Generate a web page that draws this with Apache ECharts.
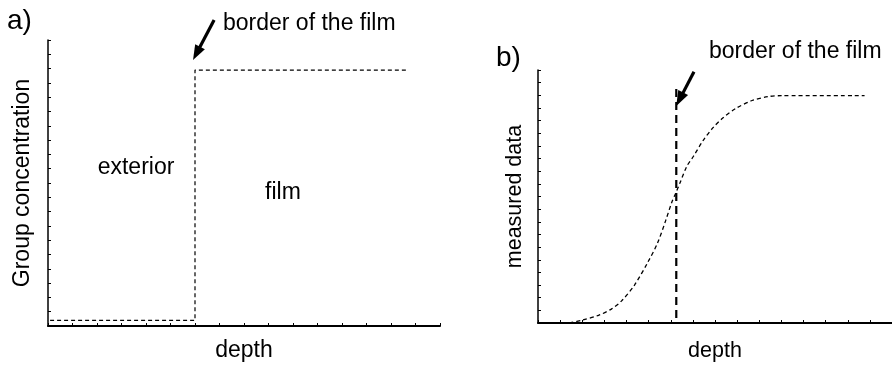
<!DOCTYPE html>
<html>
<head>
<meta charset="utf-8">
<script src="https://cdn.jsdelivr.net/npm/echarts@6/dist/echarts.min.js"></script>
<style>html,body{margin:0;padding:0;background:#fff}#c{width:892px;height:367px}</style>
</head>
<body>
<div id="c"></div>
<script>
// Panel a: step profile of group concentration
const stepDepth = [-0.2, 6, 6, 14.7];
const stepConc = [0.4, 0.4, 17.9, 17.9];
// Panel b: measured (smeared) profile
const curveDepth = [1.42, 2.01, 2.74, 3.33, 3.78, 4.37, 4.96, 5.40, 5.77, 6.06, 6.22, 6.43, 6.73, 7.02, 7.46, 7.91, 8.35, 8.94, 9.68, 10.41, 11.0, 14.76];
const curveData  = [0, 0.23, 0.61, 1.12, 1.75, 3.02, 4.79, 6.31, 8.09, 9.61, 10.24, 11.13, 12.40, 13.16, 14.42, 15.44, 16.20, 16.96, 17.59, 17.90, 17.97, 17.97];
// Film border marker in panel b
const borderDepth = [6.25, 6.25];
const borderLevel = [18.5, 0];
// Arrow annotations (data coords): [tailX, tailY, tipX, tipY]
const arrowA = [6.78, 21.4, 5.92, 18.6];
const arrowB = [7.05, 19.87, 6.25, 17.16];

const zip = (xs, ys) => xs.map((x, i) => [x, ys[i]]);
const FONT = 'Liberation Sans, Arial, sans-serif';

function axisX(gi, nameGap, size) {
  return {
    type: 'value', gridIndex: gi, min: 0, max: 16, interval: 1,
    name: 'depth', nameLocation: 'middle', nameGap: nameGap,
    nameTextStyle: {color: '#000', fontSize: size, fontFamily: FONT},
    axisLine: {show: true, onZero: false, lineStyle: {color: '#000', width: 2}},
    axisTick: {show: true, inside: true, length: 3, lineStyle: {color: '#000', width: 1}},
    axisLabel: {show: false}, splitLine: {show: false}
  };
}
function axisY(gi, name, nameGap, size) {
  return {
    type: 'value', gridIndex: gi, min: 0, max: 20, interval: 1,
    name: name, nameLocation: 'middle', nameGap: nameGap, nameRotate: 90,
    nameTextStyle: {color: '#000', fontSize: size, fontFamily: FONT},
    axisLine: {show: true, onZero: false, lineStyle: {color: '#000', width: 1.5}},
    axisTick: {show: true, inside: true, length: 3, lineStyle: {color: '#000', width: 1}},
    axisLabel: {show: false}, splitLine: {show: false}
  };
}

const chart = echarts.init(document.getElementById('c'), null, {renderer: 'canvas'});
const option = {
  animation: false,
  backgroundColor: '#fff',
  grid: [
    {left: 48, top: 40, width: 392, height: 288},
    {left: 538, top: 70, width: 362, height: 263}
  ],
  xAxis: [axisX(0, 13, 23), axisX(1, 17, 21.5)],
  yAxis: [axisY(0, 'Group concentration', 14, 23), axisY(1, 'measured data', 12, 21.5)],
  series: [
    {type: 'line', xAxisIndex: 0, yAxisIndex: 0, data: zip(stepDepth, stepConc), symbol: 'none', clip: false,
     lineStyle: {color: '#000', width: 1.2, type: [4, 3]}},
    {type: 'line', xAxisIndex: 1, yAxisIndex: 1, data: zip(curveDepth, curveData), symbol: 'none', smooth: 0.3, clip: false,
     lineStyle: {color: '#000', width: 1.3, type: [4, 3]}},
    {type: 'line', xAxisIndex: 1, yAxisIndex: 1, data: zip(borderDepth, borderLevel), symbol: 'none', clip: false,
     lineStyle: {color: '#000', width: 2.2, type: [8, 5]}}
  ]
};
chart.setOption(option);

function arrow(gi, a) {
  const S = chart.convertToPixel({gridIndex: gi}, [a[0], a[1]]);
  const T = chart.convertToPixel({gridIndex: gi}, [a[2], a[3]]);
  const dx = T[0] - S[0], dy = T[1] - S[1];
  const len = Math.hypot(dx, dy);
  const ux = dx / len, uy = dy / len;
  const L = 15, w = 5.5;
  const B = [T[0] - ux * L, T[1] - uy * L];
  const nx = -uy, ny = ux;
  return [
    {type: 'line', shape: {x1: S[0], y1: S[1], x2: B[0] + ux * 2, y2: B[1] + uy * 2}, style: {stroke: '#000', lineWidth: 3.2}},
    {type: 'polygon', shape: {points: [T, [B[0] + nx * w, B[1] + ny * w], [B[0] - nx * w, B[1] - ny * w]]}, style: {fill: '#000'}}
  ];
}
function txt(x, y, s, size) {
  return {type: 'text', x: x, y: y, style: {text: s, fill: '#000', font: size + 'px ' + FONT, textAlign: 'left', textVerticalAlign: 'middle'}};
}
function ctxt(x, y, s, size) {
  return {type: 'text', x: x, y: y, style: {text: s, fill: '#000', font: size + 'px ' + FONT, textAlign: 'center', textVerticalAlign: 'middle'}};
}

chart.setOption({
  graphic: [].concat(
    arrow(0, arrowA),
    arrow(1, arrowB),
    [
      txt(7, 21, 'a)', 28),
      txt(223, 24, 'border of the film', 23),
      ctxt(136, 168, 'exterior', 23),
      ctxt(283, 193, 'film', 23),
      txt(496, 58, 'b)', 28),
      txt(709, 52, 'border of the film', 23)
    ]
  )
});
</script>
</body>
</html>
